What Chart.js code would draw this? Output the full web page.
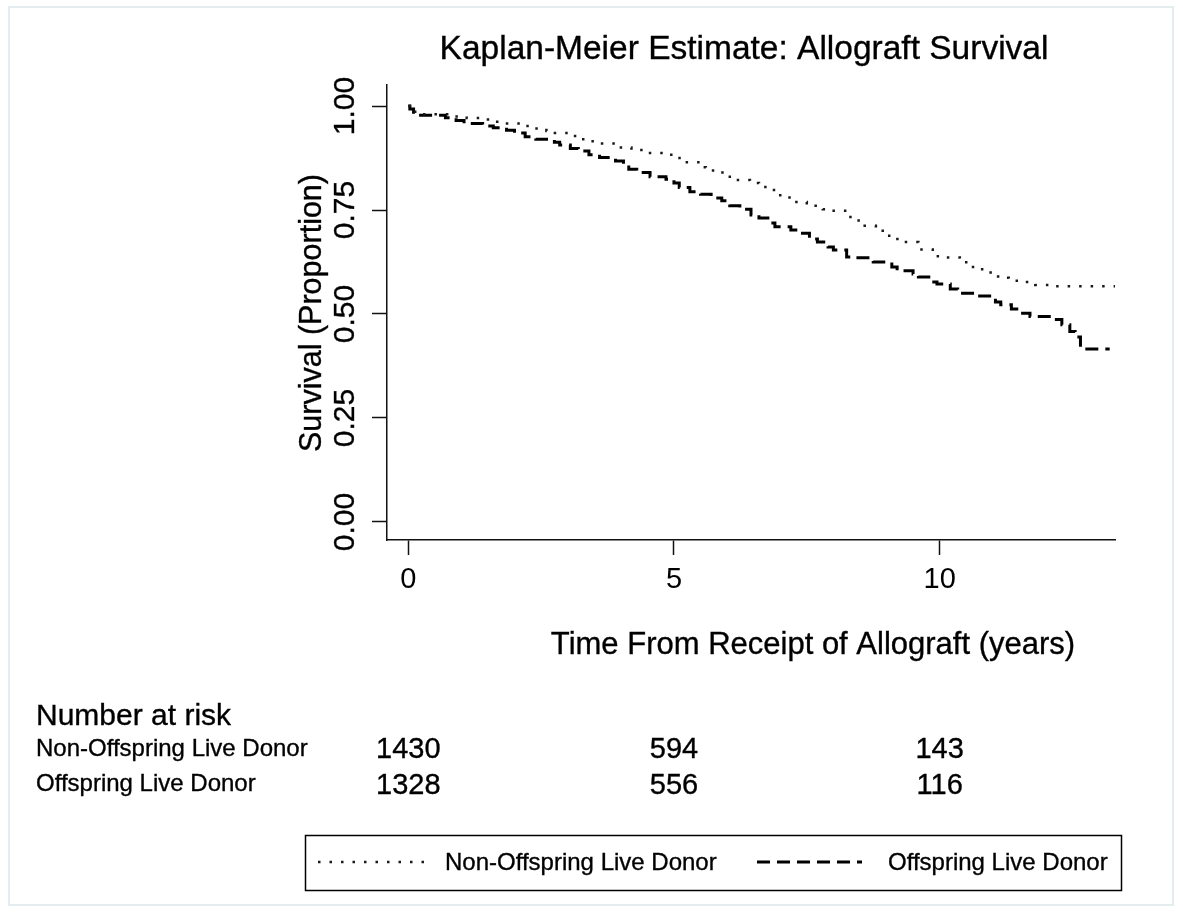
<!DOCTYPE html>
<html>
<head>
<meta charset="utf-8">
<script src="https://cdn.jsdelivr.net/npm/chart.js@4.4.1/dist/chart.umd.min.js"></script>
<style>
  html, body { margin: 0; padding: 0; background: #fff; }
</style>
</head>
<body>
<canvas id="kmChart" width="1183" height="912"></canvas>
<script>
// Kaplan-Meier step points (time in years, survival proportion)
const nonOffTimes = [0, 0.03, 0.1, 0.3, 0.8, 1.1, 1.5, 1.8, 2.1, 2.3, 2.6, 2.76, 3.1, 3.2, 3.35, 3.6, 3.9, 4.2, 4.55, 4.95,
  5.2, 5.5, 5.6, 5.8, 6.0, 6.1, 6.43, 6.6, 6.75, 7.0, 7.2, 7.5, 7.8, 7.9, 8.27, 8.4, 8.55, 8.8, 9.0, 9.15,
  9.3, 9.6, 9.87, 10.1, 10.38, 10.5, 10.6, 10.8, 11.1, 11.3, 11.6, 11.8, 12.07, 13.3];
const nonOffSurv = [1.0, 0.993, 0.986, 0.98, 0.975, 0.971, 0.962, 0.958, 0.952, 0.946, 0.94, 0.935, 0.928, 0.92, 0.915, 0.91, 0.9, 0.894, 0.887, 0.875,
  0.865, 0.853, 0.845, 0.84, 0.83, 0.822, 0.815, 0.805, 0.798, 0.78, 0.769, 0.76, 0.752, 0.748, 0.733, 0.725, 0.712, 0.7, 0.688, 0.68,
  0.673, 0.655, 0.639, 0.636, 0.632, 0.618, 0.613, 0.6, 0.587, 0.58, 0.577, 0.57, 0.567, 0.567];

const offTimes = [0, 0.03, 0.1, 0.2, 0.7, 0.9, 1.05, 1.4, 1.6, 1.85, 2.0, 2.2, 2.4, 2.75, 2.85, 3.05, 3.2, 3.4, 3.6, 3.9,
  4.05, 4.15, 4.3, 4.55, 4.85, 5.0, 5.1, 5.3, 5.5, 5.7, 5.9, 6.05, 6.24, 6.45, 6.6, 6.8, 6.9, 7.2, 7.35, 7.55,
  7.7, 7.9, 8.0, 8.25, 8.4, 8.75, 9.1, 9.2, 9.5, 9.6, 9.85, 9.95, 10.2, 10.34, 10.7, 11.05, 11.15, 11.35, 11.5, 11.7,
  12.1, 12.3, 12.45, 12.55, 12.65, 13.2];
const offSurv = [1.0, 0.993, 0.985, 0.978, 0.972, 0.965, 0.958, 0.952, 0.948, 0.942, 0.935, 0.926, 0.92, 0.913, 0.906, 0.898, 0.892, 0.883, 0.876, 0.868,
  0.86, 0.848, 0.84, 0.83, 0.824, 0.815, 0.804, 0.794, 0.788, 0.779, 0.772, 0.76, 0.752, 0.738, 0.731, 0.719, 0.71, 0.702, 0.694, 0.68,
  0.673, 0.661, 0.654, 0.637, 0.635, 0.625, 0.613, 0.604, 0.596, 0.589, 0.577, 0.572, 0.56, 0.55, 0.543, 0.529, 0.522, 0.512, 0.502, 0.494,
  0.487, 0.474, 0.458, 0.445, 0.416, 0.416];

const groupNames = ['Non-Offspring Live Donor', 'Offspring Live Donor'];
const xTickValues = [0, 5, 10];
const yTickValues = [0, 0.25, 0.5, 0.75, 1];
const atRiskTimes = [0, 5, 10];
const atRiskNonOff = [1430, 594, 143];
const atRiskOff = [1328, 556, 116];

const FONT = '"Liberation Sans", Arial, Helvetica, sans-serif';
const INK = '#000';

function toPoints(times, surv) {
    return times.map((t, i) => ({ x: t, y: surv[i] }));
}

function drawText(ctx, str, x, y, size, align, rot) {
    ctx.save();
    ctx.font = size + 'px ' + FONT;
    ctx.fillStyle = INK;
    ctx.strokeStyle = INK;
    ctx.lineWidth = 0.35;
    ctx.textAlign = align || 'left';
    ctx.textBaseline = 'middle';
    ctx.translate(x, y);
    if (rot) ctx.rotate(rot);
    ctx.fillText(str, 0, 0);
    ctx.strokeText(str, 0, 0);
    ctx.restore();
}

// titles, rotated y labels, risk table and the boxed legend
const extras = {
    id: 'extras',
    afterDraw(chart) {
        const ctx = chart.ctx;
        const xs = chart.scales.x;
        const ys = chart.scales.y;

        // faint outer frame
        ctx.save();
        ctx.strokeStyle = '#e4ecef';
        ctx.lineWidth = 2;
        ctx.strokeRect(9, 7, 1164, 898);
        ctx.restore();

        drawText(ctx, 'Kaplan-Meier Estimate: Allograft Survival', 744, 50, 33.5, 'center');

        ys.ticks.forEach(t => {
            drawText(ctx, t.label, 346, ys.getPixelForValue(t.value), 30, 'center', -Math.PI / 2);
        });
        drawText(ctx, 'Survival (Proportion)', 313, 313, 30.5, 'center', -Math.PI / 2);
        drawText(ctx, 'Time From Receipt of Allograft (years)', 813, 645, 31, 'center');

        // number at risk
        drawText(ctx, 'Number at risk', 36, 717, 30, 'left');
        drawText(ctx, groupNames[0], 36, 749, 24, 'left');
        drawText(ctx, groupNames[1], 36, 784, 24, 'left');
        atRiskTimes.forEach((t, i) => {
            const px = xs.getPixelForValue(t);
            drawText(ctx, String(atRiskNonOff[i]), px, 750, 29, 'center');
            drawText(ctx, String(atRiskOff[i]), px, 786, 29, 'center');
        });

        // legend box
        ctx.save();
        ctx.strokeStyle = INK;
        ctx.lineWidth = 1.5;
        ctx.strokeRect(305.5, 835.5, 816, 55);
        const ds = chart.data.datasets;
        const samples = [[318, 432], [757, 862]];
        samples.forEach((s, i) => {
            ctx.beginPath();
            ctx.strokeStyle = ds[i].borderColor;
            ctx.lineWidth = ds[i].borderWidth;
            ctx.setLineDash(ds[i].borderDash);
            ctx.moveTo(s[0], 862);
            ctx.lineTo(s[1], 862);
            ctx.stroke();
        });
        ctx.restore();
        drawText(ctx, groupNames[0], 445, 863, 24, 'left');
        drawText(ctx, groupNames[1], 888, 863, 24, 'left');
    }
};

const ctx = document.getElementById('kmChart').getContext('2d');
const kmChart = new Chart(ctx, {
    type: 'line',
    data: {
        datasets: [
            {
                label: groupNames[0],
                data: toPoints(nonOffTimes, nonOffSurv),
                borderColor: '#1a1a1a',
                borderWidth: 2.5,
                borderDash: [2.5, 9],
                stepped: true,
                pointRadius: 0,
                fill: false
            },
            {
                label: groupNames[1],
                data: toPoints(offTimes, offSurv),
                borderColor: '#000',
                borderWidth: 3,
                borderDash: [13, 7],
                stepped: true,
                pointRadius: 0,
                fill: false
            }
        ]
    },
    options: {
        responsive: false,
        animation: false,
        layout: { padding: { left: 300, right: 68, top: 85, bottom: 312 } },
        plugins: {
            legend: { display: false },
            title: { display: false },
            tooltip: { enabled: false }
        },
        scales: {
            x: {
                type: 'linear',
                min: -0.4,
                max: 13.3,
                afterBuildTicks: s => { s.ticks = xTickValues.map(v => ({ value: v })); },
                afterFit: s => { s.height = 60; },
                border: { color: '#111', width: 1.5 },
                grid: { drawOnChartArea: false, drawTicks: true, tickLength: 15, tickWidth: 1.5, tickColor: '#111' },
                ticks: { color: INK, padding: 8, font: { family: FONT, size: 29 } }
            },
            y: {
                type: 'linear',
                min: -0.0433,
                max: 1.0505,
                afterBuildTicks: s => { s.ticks = yTickValues.map(v => ({ value: v })); },
                afterFit: s => { s.width = 87; },
                border: { color: '#111', width: 1.5 },
                grid: { drawOnChartArea: false, drawTicks: true, tickLength: 15, tickWidth: 1.5, tickColor: '#111' },
                ticks: { color: 'rgba(0,0,0,0)', callback: v => v.toFixed(2), font: { family: FONT, size: 29 } }
            }
        }
    },
    plugins: [extras]
});
</script>
</body>
</html>
